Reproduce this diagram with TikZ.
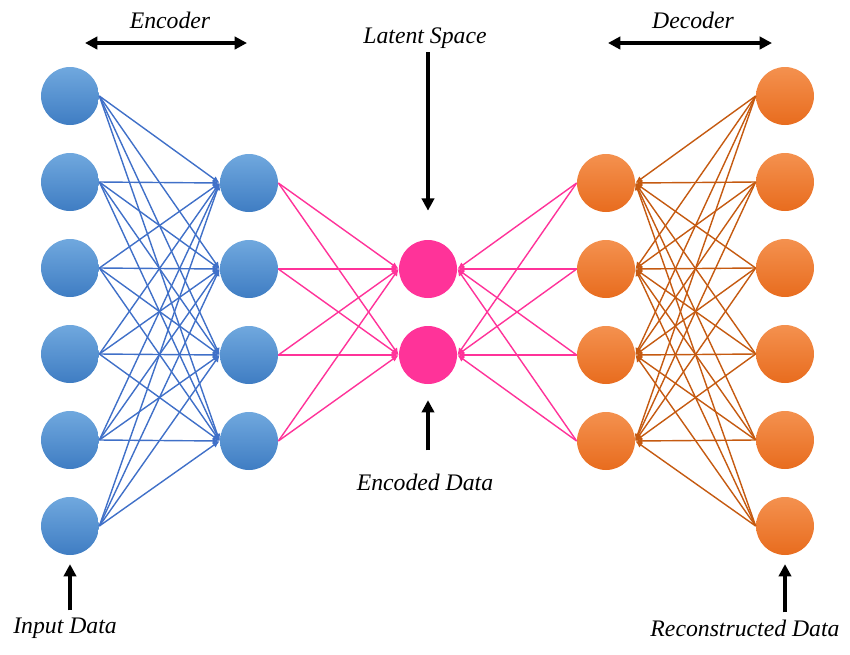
\documentclass[tikz,border=0pt]{standalone}
\usepackage{fontspec}
\setmainfont{Liberation Serif}
\usetikzlibrary{arrows.meta}

\definecolor{enctop}{HTML}{70A8DE}
\definecolor{encbot}{HTML}{3F7DC3}
\definecolor{encline}{HTML}{4070C8}
\definecolor{latpink}{HTML}{FF3399}
\definecolor{dectop}{HTML}{F4914F}
\definecolor{decbot}{HTML}{E86C1E}
\definecolor{decline}{HTML}{C55A11}

\begin{document}
\begin{tikzpicture}[x=0.02cm,y=-0.02cm,
	neuron/.style={circle,minimum size=1.16cm,inner sep=0pt},
	encnode/.style={neuron,top color=enctop,bottom color=encbot},
	latnode/.style={neuron,fill=latpink},
	decnode/.style={neuron,top color=dectop,bottom color=decbot},
	link/.style={line width=0.8pt,-{Latex[length=4pt,width=3.5pt]}},
	tag/.style={font=\fontsize{13.5}{15}\selectfont\itshape,inner sep=1pt},
	bigarrow/.style={line width=1.8pt,-{Triangle[length=7pt,width=7pt]}},
	bigboth/.style={line width=1.8pt,{Triangle[length=7pt,width=7pt]}-{Triangle[length=7pt,width=7pt]}}]
	\useasboundingbox (0,0) rectangle (850,654);

	% layers
	\foreach \i in {1,...,6}
		\node[encnode] (in\i) at (70,{96+86*(\i-1)}) {};
	\foreach \i in {1,...,4}
		\node[encnode] (h\i) at (249,{183+86*(\i-1)}) {};
	\foreach \i in {1,2}
		\node[latnode] (z\i) at (428,{269+86*(\i-1)}) {};
	\foreach \i in {1,...,4}
		\node[decnode] (g\i) at (606,{183+86*(\i-1)}) {};
	\foreach \i in {1,...,6}
		\node[decnode] (out\i) at (785,{96+86*(\i-1)}) {};

	% links
	\foreach \i in {1,...,6}
		\foreach \j in {1,...,4}
			\draw[link,encline] (in\i.east) -- (h\j.west);
	\foreach \i in {1,...,4}
		\foreach \j in {1,2}
			\draw[link,latpink] (h\i.east) -- (z\j.west);
	\foreach \i in {1,...,4}
		\foreach \j in {1,2}
			\draw[link,latpink] (g\i.west) -- (z\j.east);
	\foreach \i in {1,...,6}
		\foreach \j in {1,...,4}
			\draw[link,decline] (out\i.west) -- (g\j.east);

	% labels
	\node[tag] (enc) at (170,20) {Encoder};
	\node[tag] (dec) at (693,20) {Decoder};
	\node[tag] (lat) at (425,38) {Latent Space};
	\node[tag] (code) at (425,482) {Encoded Data};
	\node[tag] (inp) at (65,628) {Input Data};
	\node[tag] (rec) at (745,628) {Reconstructed Data};

	\coordinate (encL) at (85,43);
	\coordinate (encR) at (247,43);
	\coordinate (decL) at (608,43);
	\coordinate (decR) at (772,43);
	\draw[bigboth] (encL) -- (encR);
	\draw[bigboth] (decL) -- (decR);

	\draw[bigarrow,shorten <=1pt,shorten >=16.5pt] (lat.south -| z1) -- (z1.north);
	\draw[bigarrow,shorten <=12pt,shorten >=9pt] (code.north -| z2) -- (z2.south);
	\draw[bigarrow,shorten <=3pt,shorten >=5pt] (inp.north -| in6) -- (in6.south);
	\draw[bigarrow,shorten <=3pt,shorten >=5pt] (rec.north -| out6) -- (out6.south);
\end{tikzpicture}
\end{document}
